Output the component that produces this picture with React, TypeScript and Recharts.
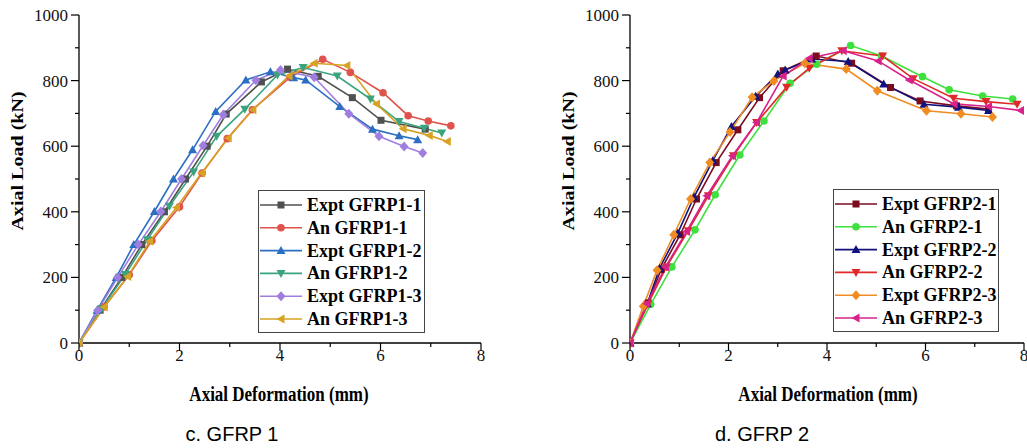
import { LineChart, Line, XAxis, YAxis, Legend } from 'recharts'

// axis ticks (odd x and x00 values are minor ticks without labels)
const xTicks = [0, 1, 2, 3, 4, 5, 6, 7, 8]
const yTicks = [0, 100, 200, 300, 400, 500, 600, 700, 800, 900, 1000]
const xLabelled = [0, 2, 4, 6, 8]
const yLabelled = [0, 200, 400, 600, 800, 1000]

// panel c. GFRP 1  — [deformation mm, load kN]
const exptGfrp1_1 = [[0, 0], [0.42, 100], [0.85, 200], [1.25, 300], [1.7, 400], [2.12, 500], [2.55, 600], [2.93, 698], [3.63, 796], [4.15, 835], [4.76, 813], [5.44, 748], [6.01, 679], [6.89, 652]]
const anGfrp1_1 = [[0, 0], [0.5, 110], [1.0, 208], [1.45, 312], [2.0, 415], [2.45, 518], [2.95, 623], [3.45, 711], [4.2, 810], [4.85, 865], [5.4, 825], [6.05, 763], [6.55, 693], [6.95, 677], [7.4, 662]]
const exptGfrp1_2 = [[0, 0], [0.36, 100], [0.74, 200], [1.09, 300], [1.5, 401], [1.88, 500], [2.26, 589], [2.72, 706], [3.32, 802], [3.81, 827], [4.27, 809], [4.51, 802], [5.19, 721], [5.84, 652], [6.37, 632], [6.74, 620]]
const anGfrp1_2 = [[0, 0], [0.45, 105], [0.92, 209], [1.36, 315], [1.8, 417], [2.28, 521], [2.74, 630], [3.3, 713], [3.95, 817], [4.46, 840], [5.14, 814], [5.8, 744], [6.37, 675], [6.87, 655], [7.22, 640]]
const exptGfrp1_3 = [[0, 0], [0.37, 99], [0.77, 200], [1.18, 300], [1.63, 401], [2.04, 500], [2.47, 602], [2.87, 696], [3.52, 801], [4.01, 832], [4.68, 810], [5.37, 699], [5.97, 630], [6.47, 599], [6.84, 579]]
const anGfrp1_3 = [[0, 0], [0.5, 110], [0.97, 203], [1.41, 310], [1.94, 413], [2.44, 518], [2.97, 625], [3.46, 711], [4.18, 814], [4.68, 853], [5.33, 846], [5.92, 729], [6.45, 653], [6.97, 633], [7.33, 614]]

// panel d. GFRP 2
const exptGfrp2_1 = [[0, 0], [0.37, 122], [0.63, 224], [1.02, 330], [1.35, 439], [1.75, 550], [2.19, 650], [2.63, 748], [3.11, 830], [3.78, 875], [4.5, 853], [5.29, 779], [5.89, 738], [6.63, 723], [7.28, 713]]
const anGfrp2_1 = [[0, 0], [0.42, 118], [0.85, 232], [1.32, 345], [1.73, 452], [2.23, 573], [2.72, 677], [3.25, 792], [3.79, 850], [4.48, 907], [5.11, 875], [5.94, 812], [6.48, 772], [7.16, 753], [7.77, 744]]
const exptGfrp2_2 = [[0, 0], [0.35, 120], [0.6, 228], [0.97, 335], [1.3, 445], [1.68, 556], [2.06, 660], [2.55, 752], [3.0, 820], [3.15, 832], [3.69, 866], [4.43, 858], [5.15, 790], [5.97, 728], [6.67, 719], [7.28, 709]]
const anGfrp2_2 = [[0, 0], [0.36, 118], [0.74, 232], [1.18, 342], [1.59, 449], [2.1, 571], [2.57, 672], [3.18, 780], [3.64, 838], [4.3, 891], [5.13, 875], [5.75, 806], [6.57, 746], [7.23, 736], [7.86, 728]]
const exptGfrp2_3 = [[0, 0], [0.27, 112], [0.55, 222], [0.89, 330], [1.23, 439], [1.62, 550], [2.03, 643], [2.48, 749], [2.92, 799], [3.55, 853], [4.39, 835], [5.02, 769], [6.02, 708], [6.72, 699], [7.36, 689]]
const anGfrp2_3 = [[0, 0], [0.34, 120], [0.72, 232], [1.15, 340], [1.56, 449], [2.08, 571], [2.57, 672], [3.11, 814], [3.64, 868], [4.33, 891], [5.04, 860], [5.67, 802], [6.58, 729], [7.28, 721], [7.93, 709]]

type Shape = 'square' | 'circle' | 'up' | 'down' | 'diamond' | 'left'
type Series = { name: string; color: string; shape: Shape; points: number[][] }

const gfrp1: Series[] = [
  { name: 'Expt GFRP1-1', color: '#505050', shape: 'square', points: exptGfrp1_1 },
  { name: 'An GFRP1-1', color: '#e0524c', shape: 'circle', points: anGfrp1_1 },
  { name: 'Expt GFRP1-2', color: '#2b6fc2', shape: 'up', points: exptGfrp1_2 },
  { name: 'An GFRP1-2', color: '#3ba47e', shape: 'down', points: anGfrp1_2 },
  { name: 'Expt GFRP1-3', color: '#a07ee0', shape: 'diamond', points: exptGfrp1_3 },
  { name: 'An GFRP1-3', color: '#d8a222', shape: 'left', points: anGfrp1_3 },
]

const gfrp2: Series[] = [
  { name: 'Expt GFRP2-1', color: '#7a0c1e', shape: 'square', points: exptGfrp2_1 },
  { name: 'An GFRP2-1', color: '#3ee03e', shape: 'circle', points: anGfrp2_1 },
  { name: 'Expt GFRP2-2', color: '#12127e', shape: 'up', points: exptGfrp2_2 },
  { name: 'An GFRP2-2', color: '#e02a2a', shape: 'down', points: anGfrp2_2 },
  { name: 'Expt GFRP2-3', color: '#f08c22', shape: 'diamond', points: exptGfrp2_3 },
  { name: 'An GFRP2-3', color: '#d8228a', shape: 'left', points: anGfrp2_3 },
]

const SERIF = '"Liberation Serif", "Times New Roman", serif'
const PLOT_TOP = 15
const PLOT_BOTTOM = 343

function drawMarker(shape: Shape, color: string, cx: number, cy: number, key?: any) {
  switch (shape) {
    case 'square':
      return <rect key={key} x={cx - 3.5} y={cy - 3.5} width={7} height={7} fill={color} />
    case 'circle':
      return <circle key={key} cx={cx} cy={cy} r={3.8} fill={color} />
    case 'up':
      return <polygon key={key} points={`${cx},${cy - 4.5} ${cx + 4.5},${cy + 3.5} ${cx - 4.5},${cy + 3.5}`} fill={color} />
    case 'down':
      return <polygon key={key} points={`${cx},${cy + 4.5} ${cx + 4.5},${cy - 3.5} ${cx - 4.5},${cy - 3.5}`} fill={color} />
    case 'diamond':
      return <polygon key={key} points={`${cx},${cy - 5} ${cx + 4.5},${cy} ${cx},${cy + 5} ${cx - 4.5},${cy}`} fill={color} />
    default:
      return <polygon key={key} points={`${cx - 4.5},${cy} ${cx + 3.5},${cy - 4.5} ${cx + 3.5},${cy + 4.5}`} fill={color} />
  }
}

const makeDot = (s: Series) => (props: any) => {
  const { cx, cy, index } = props
  if (cx == null || cy == null) return <g key={index} />
  return drawMarker(s.shape, s.color, cx, cy, index)
}

const XTick = (props: any) => {
  const { x, payload } = props
  const major = xLabelled.includes(payload.value)
  return (
    <g>
      <line x1={x} y1={PLOT_BOTTOM} x2={x} y2={PLOT_BOTTOM + (major ? 8 : 4)} stroke="#000" strokeWidth={1.2} />
      {major && (
        <text x={x} y={361} textAnchor="middle" fontFamily={SERIF} fontSize={17} fill="#111">
          {payload.value}
        </text>
      )}
    </g>
  )
}

const makeYTick = (axisX: number) => (props: any) => {
  const { y, payload } = props
  const major = yLabelled.includes(payload.value)
  return (
    <g>
      <line x1={axisX - (major ? 8 : 4)} y1={y} x2={axisX} y2={y} stroke="#000" strokeWidth={1.2} />
      {major && (
        <text x={axisX - 11} y={y + 6} textAnchor="end" fontFamily={SERIF} fontSize={17} fill="#111">
          {payload.value}
        </text>
      )}
    </g>
  )
}

const makeLegend = (series: Series[], w: number, h: number) => () => (
  <svg width={w} height={h} style={{ display: 'block' }}>
    <rect x={0.5} y={0.5} width={w - 1} height={h - 1} fill="#fff" stroke="#444" strokeWidth={1} />
    {series.map((s, i) => {
      const cy = 15 + i * 22.8
      return (
        <g key={s.name}>
          <line x1={2} y1={cy} x2={44} y2={cy} stroke={s.color} strokeWidth={1.6} />
          {drawMarker(s.shape, s.color, 23, cy)}
          <text x={49} y={cy + 6} fontFamily={SERIF} fontWeight="bold" fontSize={18} fill="#000">
            {s.name}
          </text>
        </g>
      )
    })}
  </svg>
)

function Panel(props: {
  series: Series[]
  width: number
  axisX: number
  marginRight: number
  legendLeft: number
  legendTop: number
  legendW: number
  legendH: number
  xLabelX: number
  yLabelX: number
}) {
  const { series, width, axisX, marginRight } = props
  return (
    <LineChart
      width={width}
      height={448}
      margin={{ top: PLOT_TOP, right: marginRight, bottom: 448 - PLOT_BOTTOM - 30, left: 0 }}
      style={{ fontFamily: SERIF }}
    >
      <XAxis
        type="number"
        dataKey="x"
        domain={[0, 8]}
        ticks={xTicks}
        interval={0}
        allowDataOverflow
        height={30}
        tickLine={false}
        tick={<XTick />}
        axisLine={{ stroke: '#000', strokeWidth: 1.3 }}
        label={{
          content: () => (
            <text
              transform={`translate(${props.xLabelX},401) scale(1,1.18)`}
              textAnchor="middle"
              fontFamily={SERIF}
              fontWeight="bold"
              fontSize={17}
              fill="#000"
            >
              Axial Deformation (mm)
            </text>
          ),
        }}
      />
      <YAxis
        type="number"
        dataKey="y"
        domain={[0, 1000]}
        ticks={yTicks}
        interval={0}
        width={axisX}
        tickLine={false}
        tick={makeYTick(axisX)}
        axisLine={{ stroke: '#000', strokeWidth: 1.3 }}
        label={{
          content: () => (
            <text
              transform={`translate(${props.yLabelX},161) rotate(-90) scale(1.18,1)`}
              textAnchor="middle"
              fontFamily={SERIF}
              fontWeight="bold"
              fontSize={17}
              fill="#000"
            >
              Axial Load (kN)
            </text>
          ),
        }}
      />
      <Legend
        layout="vertical"
        align="center"
        verticalAlign="middle"
        content={makeLegend(series, props.legendW, props.legendH)}
        wrapperStyle={{ left: props.legendLeft, top: props.legendTop, width: props.legendW, height: props.legendH }}
      />
      {series.map((s) => (
        <Line
          key={s.name}
          name={s.name}
          data={s.points.map(([x, y]) => ({ x, y }))}
          dataKey="y"
          type="linear"
          stroke={s.color}
          strokeWidth={1.6}
          dot={makeDot(s)}
          activeDot={false}
          isAnimationActive={false}
        />
      ))}
    </LineChart>
  )
}

const captionStyle = {
  position: 'absolute' as const,
  top: 424,
  width: 200,
  textAlign: 'center' as const,
  fontFamily: '"Liberation Sans", Arial, sans-serif',
  fontSize: 20,
  lineHeight: '20px',
  color: '#000',
}

export default function App() {
  return (
    <div style={{ position: 'fixed', left: 0, top: 0, width: 1027, height: 448, background: '#fff', overflow: 'hidden' }}>
      <div style={{ position: 'absolute', left: 0, top: 0 }}>
        <Panel
          series={gfrp1}
          width={500}
          axisX={79}
          marginRight={19}
          legendLeft={258}
          legendTop={190}
          legendW={167}
          legendH={143}
          xLabelX={279}
          yLabelX={23}
        />
      </div>
      <div style={{ position: 'absolute', left: 530, top: 0 }}>
        <Panel
          series={gfrp2}
          width={497}
          axisX={100}
          marginRight={3}
          legendLeft={303}
          legendTop={189}
          legendW={166}
          legendH={143}
          xLabelX={298}
          yLabelX={44}
        />
      </div>
      <div style={{ ...captionStyle, left: 132 }}>c. GFRP 1</div>
      <div style={{ ...captionStyle, left: 662 }}>d. GFRP 2</div>
    </div>
  )
}
